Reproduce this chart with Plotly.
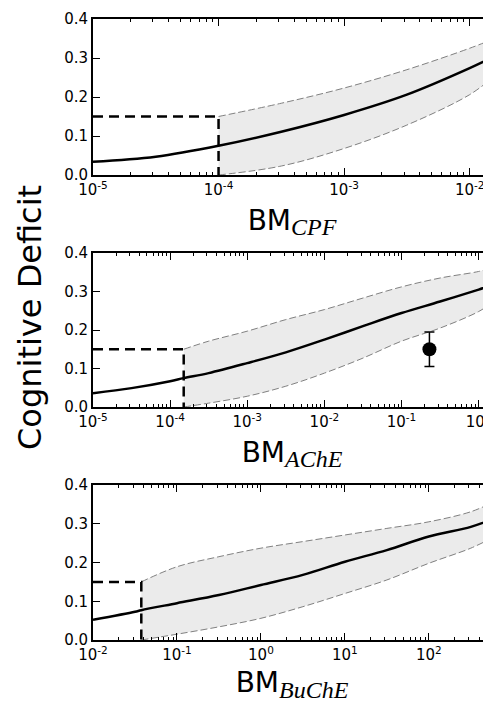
import plotly.graph_objects as go

# ---------------- data ----------------
# Panel 1: BM_CPF
cpf_x = [1e-5, 3.16e-5, 1e-4, 3.16e-4, 1e-3, 3.16e-3, 1e-2, 1.5e-2]
cpf_mean = [0.034, 0.047, 0.075, 0.111, 0.154, 0.206, 0.274, 0.301]
cpf_band_x = [1e-4, 3.16e-4, 1e-3, 3.16e-3, 1e-2, 1.5e-2]
cpf_upper = [0.150, 0.184, 0.223, 0.270, 0.325, 0.347]
cpf_lower = [0.000, 0.023, 0.068, 0.128, 0.206, 0.248]
cpf_threshold_x = 1e-4

# Panel 2: BM_AChE
ache_x = [1e-5, 3.16e-5, 1e-4, 1.5e-4, 3.16e-4, 1e-3, 3.16e-3, 1e-2, 3.16e-2, 1e-1, 3.16e-1, 1.0, 1.47]
ache_mean = [0.036, 0.049, 0.067, 0.075, 0.088, 0.114, 0.142, 0.175, 0.210, 0.244, 0.274, 0.305, 0.316]
ache_band_x = [1.5e-4, 3.16e-4, 1e-3, 3.16e-3, 1e-2, 3.16e-2, 1e-1, 3.16e-1, 1.0, 1.47]
ache_upper = [0.150, 0.171, 0.197, 0.227, 0.253, 0.283, 0.312, 0.335, 0.352, 0.361]
ache_lower = [0.000, 0.010, 0.028, 0.054, 0.088, 0.127, 0.171, 0.205, 0.248, 0.270]
ache_threshold_x = 1.5e-4
ache_obs_x = [0.23]
ache_obs_y = [0.150]
ache_obs_err = [0.045]

# Panel 3: BM_BuChE
buche_x = [1e-2, 3.16e-2, 3.76e-2, 1e-1, 3.16e-1, 1.0, 3.16, 10.0, 31.6, 100.0, 316.0, 560.0]
buche_mean = [0.052, 0.073, 0.077, 0.095, 0.116, 0.142, 0.168, 0.202, 0.232, 0.267, 0.292, 0.311]
buche_band_x = [3.76e-2, 1e-1, 3.16e-1, 1.0, 3.16, 10.0, 31.6, 100.0, 316.0, 560.0]
buche_upper = [0.150, 0.189, 0.215, 0.237, 0.254, 0.271, 0.288, 0.305, 0.331, 0.354]
buche_lower = [0.000, 0.015, 0.034, 0.056, 0.086, 0.120, 0.155, 0.198, 0.237, 0.263]
buche_threshold_x = 3.76e-2

threshold_y = 0.15

y_ticks = [0.0, 0.1, 0.2, 0.3, 0.4]
y_ticktext = ["0.0", "0.1", "0.2", "0.3", "0.4"]

SUB = "<sub><span style='font-family:Liberation Serif;font-size:24px'><i>%s</i></span></sub>"
panels = [
    dict(x=cpf_x, mean=cpf_mean, bx=cpf_band_x, up=cpf_upper, lo=cpf_lower,
         thr=cpf_threshold_x, xmin_exp=-5, decades=[-5, -4, -3, -2],
         xrange=[-5, -1.83], title="BM" + SUB % "CPF"),
    dict(x=ache_x, mean=ache_mean, bx=ache_band_x, up=ache_upper, lo=ache_lower,
         thr=ache_threshold_x, xmin_exp=-5, decades=[-5, -4, -3, -2, -1, 0],
         xrange=[-5, 0.16], title="BM" + SUB % "AChE"),
    dict(x=buche_x, mean=buche_mean, bx=buche_band_x, up=buche_upper, lo=buche_lower,
         thr=buche_threshold_x, xmin_exp=-2, decades=[-2, -1, 0, 1, 2],
         xrange=[-2, 2.74], title="BM" + SUB % "BuChE"),
]

# page body adds an 8 px margin; figure is sized/positioned to compensate
OFF = 8
W, H = 491 - OFF, 703 - OFF
ybox = [(19, 175), (253, 407), (485, 640)]   # window pixel (top, bottom) of plot areas
x_left = 93

fig = go.Figure()
FONT = "DejaVu Sans"
BAND_FILL = "#ebebeb"
BAND_LINE = "#808080"

for i, p in enumerate(panels):
    n = "" if i == 0 else str(i + 1)
    xa = "x" + n
    ya = "y" + n
    fig.add_trace(go.Scatter(x=p["bx"], y=p["lo"], mode="lines", xaxis=xa, yaxis=ya,
                             line=dict(color=BAND_LINE, width=1, dash="7px,3px", shape="spline"),
                             showlegend=False, hoverinfo="skip"))
    fig.add_trace(go.Scatter(x=p["bx"], y=p["up"], mode="lines", xaxis=xa, yaxis=ya,
                             fill="tonexty", fillcolor=BAND_FILL,
                             line=dict(color=BAND_LINE, width=1, dash="7px,3px", shape="spline"),
                             showlegend=False, hoverinfo="skip"))
    fig.add_trace(go.Scatter(x=p["x"], y=p["mean"], mode="lines", xaxis=xa, yaxis=ya,
                             line=dict(color="black", width=2.5, shape="spline"),
                             showlegend=False))
    xmin = 10 ** p["xmin_exp"]
    fig.add_trace(go.Scatter(x=[xmin, p["thr"], p["thr"]], y=[threshold_y, threshold_y, 0.0],
                             mode="lines", xaxis=xa, yaxis=ya,
                             line=dict(color="black", width=2.5, dash="10px,6px"),
                             showlegend=False))
    if i == 1:
        fig.add_trace(go.Scatter(x=ache_obs_x, y=ache_obs_y, mode="markers", xaxis=xa, yaxis=ya,
                                 marker=dict(color="black", size=14),
                                 error_y=dict(type="data", array=ache_obs_err, color="black",
                                              thickness=1.5, width=5),
                                 showlegend=False))

    top, bot = ybox[i]
    top -= OFF
    bot -= OFF
    tickvals = [10 ** d for d in p["decades"]]
    ticktext = ["10<sup>%d</sup>" % d for d in p["decades"]]
    minor_vals = [m * 10 ** d for d in range(p["decades"][0], p["decades"][-1] + 1) for m in range(2, 10)]
    xkey = "xaxis" + n
    ykey = "yaxis" + n
    fig.update_layout(**{
        xkey: dict(type="log", range=p["xrange"], domain=[(x_left - OFF) / W, 1.0], anchor=ya,
                   tickmode="array", tickvals=tickvals, ticktext=ticktext,
                   ticklabeloverflow="allow",
                   ticks="inside", ticklen=7, tickwidth=1.2, tickcolor="black",
                   minor=dict(tickmode="array", tickvals=minor_vals, ticks="inside", ticklen=3.5,
                              tickwidth=1, tickcolor="black", showgrid=False),
                   showline=True, linecolor="black", linewidth=1.8, mirror="ticks",
                   showgrid=False, zeroline=False,
                   tickfont=dict(family=FONT, size=15, color="black"),
                   title=dict(text=p["title"], font=dict(family=FONT, size=28, color="black"),
                              standoff=12),
                   automargin=False),
        ykey: dict(range=[0, 0.4], domain=[1 - bot / H, 1 - top / H], anchor=xa,
                   tickmode="array", tickvals=y_ticks, ticktext=y_ticktext,
                   ticks="inside", ticklen=7, tickwidth=1.2, tickcolor="black",
                   showline=True, linecolor="black", linewidth=1.8, mirror="ticks",
                   showgrid=False, zeroline=False,
                   tickfont=dict(family=FONT, size=15, color="black"),
                   automargin=False),
    })

fig.add_annotation(text="Cognitive Deficit", xref="paper", yref="paper",
                   x=(30 - OFF) / W, y=1 - (318 - OFF) / H, xanchor="center", yanchor="middle",
                   textangle=-90, showarrow=False,
                   font=dict(family=FONT, size=32, color="black"))

fig.update_layout(width=W, height=H, margin=dict(l=0, r=0, t=0, b=0),
                  plot_bgcolor="white", paper_bgcolor="white", showlegend=False)

fig.write_html("out.html")
